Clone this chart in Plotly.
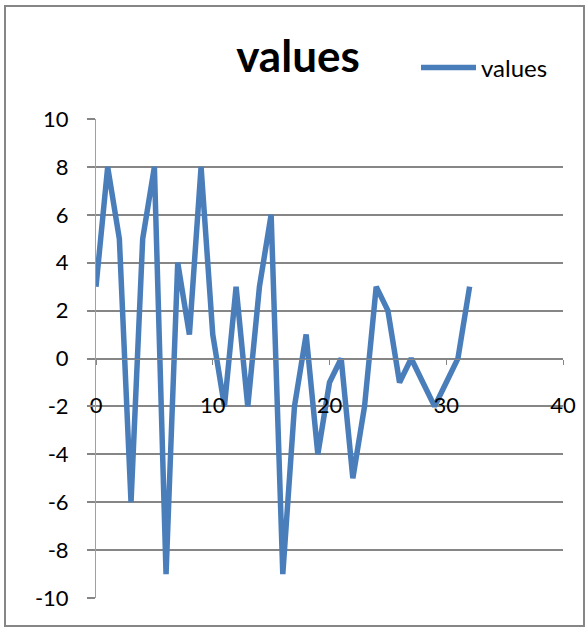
import plotly.graph_objects as go

# Series data
x_vals = list(range(33))
values = [3, 8, 5, -6, 5, 8, -9, 4, 1, 8, 1, -2, 3, -2, 3, 6, -9, -2, 1, -4,
          -1, 0, -5, -2, 3, 2, -1, 0, -1, -2, -1, 0, 3]
series_name = "values"
chart_title = "values"

# Axis ticks (hyphen-minus labels)
x_ticks = [0, 10, 20, 30, 40]
y_ticks = [-10, -8, -6, -4, -2, 0, 2, 4, 6, 8, 10]
y_tick_text = [str(v) for v in y_ticks]
x_tick_text = [str(v) for v in x_ticks]

W, H = 587, 628
L, R, T, B = 96, 24, 119, 30
pw = W - L - R
ph = H - T - B

FONT = "Lato, Carlito, Calibri, sans-serif"
GRID = "#868686"

fig = go.Figure()
fig.add_trace(go.Scatter(
    x=x_vals, y=values, mode="lines", name=series_name,
    line=dict(color="#4A7EBB", width=5.5, shape="linear"),
))

fig.update_layout(
    width=W, height=H,
    margin=dict(l=L, r=R, t=T, b=B),
    paper_bgcolor="white", plot_bgcolor="white",
    font=dict(family=FONT, size=22, color="black"),
    title=dict(text="<b>" + chart_title + "</b>", x=(298 - L) / pw, xref="paper",
               xanchor="center", y=1 - 57 / H, yanchor="middle",
               font=dict(family=FONT, size=44, color="black")),
    showlegend=True,
    legend=dict(x=(416 - L) / pw, xanchor="left", y=1 + (T - 68) / ph, yanchor="middle",
                bgcolor="rgba(0,0,0,0)", font=dict(family=FONT, size=24),
                itemwidth=55, tracegroupgap=0),
    xaxis=dict(range=[0, 40], tickmode="array", tickvals=x_ticks, ticktext=x_tick_text,
               showgrid=False, zeroline=False,
               showline=True, linecolor=GRID, linewidth=1,
               ticks="outside", ticklen=5, tickcolor=GRID, tickwidth=1,
               anchor="free", position=0.5, ticklabelstandoff=22,
               tickfont=dict(family=FONT, size=22, color="black")),
    yaxis=dict(range=[-10, 10], tickmode="array", tickvals=y_ticks, ticktext=y_tick_text,
               showgrid=True, gridcolor=GRID, gridwidth=2, zeroline=False,
               showline=True, linecolor="#A0A0A0", linewidth=1,
               ticks="outside", ticklen=8, tickcolor=GRID, tickwidth=2,
               ticklabelstandoff=14,
               tickfont=dict(family=FONT, size=22, color="black")),
)

# Chart-area border
fig.add_shape(type="rect", xref="paper", yref="paper",
              x0=(5 - L) / pw, x1=(584 - L) / pw,
              y0=1 - (626 - T) / ph, y1=1 + (T - 6) / ph,
              line=dict(color=GRID, width=2), fillcolor="rgba(0,0,0,0)", layer="below")

fig.write_html("out.html")
